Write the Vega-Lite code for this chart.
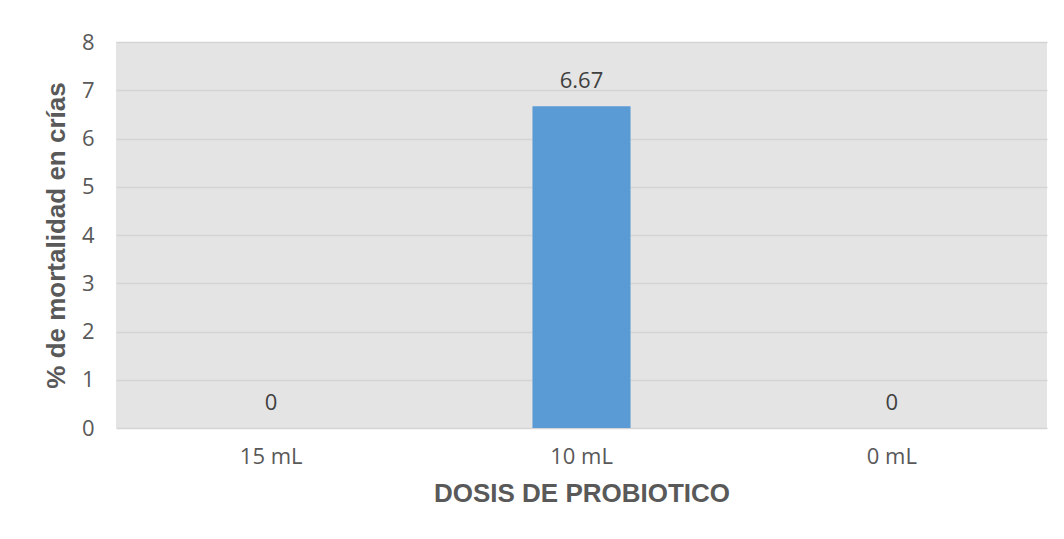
{
  "$schema": "https://vega.github.io/schema/vega-lite/v6.json",
  "autosize": {"type": "none"},
  "width": 931,
  "height": 386,
  "padding": {"left": 116, "top": 42, "right": 17, "bottom": 111},
  "background": "white",
  "config": {
    "view": {"fill": "#e4e4e4", "stroke": null},
    "font": "Open Sans"
  },
  "data": {
    "values": [
      {"dosis": "15 mL", "mortalidad": 0, "label": "0"},
      {"dosis": "10 mL", "mortalidad": 6.67, "label": "6.67"},
      {"dosis": "0 mL", "mortalidad": 0, "label": "0"}
    ]
  },
  "encoding": {
    "x": {
      "field": "dosis",
      "type": "nominal",
      "sort": ["15 mL", "10 mL", "0 mL"],
      "scale": {"paddingInner": 0, "paddingOuter": 0},
      "axis": {
        "title": "DOSIS DE PROBIOTICO",
        "titleFont": "Liberation Sans",
        "titleFontWeight": "bold",
        "titleFontSize": 26,
        "titleColor": "#595959",
        "titlePadding": 13,
        "labelFont": "Open Sans",
        "labelFontSize": 22,
        "labelColor": "#595959",
        "labelAngle": 0,
        "labelPadding": 18,
        "ticks": false,
        "domain": false
      }
    },
    "y": {
      "field": "mortalidad",
      "type": "quantitative",
      "scale": {"domain": [0, 8], "nice": false},
      "axis": {
        "title": "% de mortalidad en crías",
        "titleFont": "Liberation Sans",
        "titleFontWeight": "bold",
        "titleFontSize": 26,
        "titleColor": "#595959",
        "titlePadding": 12,
        "labelFont": "Open Sans",
        "labelFontSize": 22,
        "labelColor": "#595959",
        "labelPadding": 22,
        "values": [0, 1, 2, 3, 4, 5, 6, 7, 8],
        "ticks": false,
        "domain": false,
        "grid": true,
        "gridColor": "#d4d4d4",
        "gridWidth": 1.5
      }
    }
  },
  "layer": [
    {
      "mark": {"type": "bar", "color": "#5b9bd5", "width": {"band": 0.316}}
    },
    {
      "mark": {
        "type": "text",
        "font": "Open Sans",
        "fontSize": 22,
        "color": "#404040",
        "baseline": "alphabetic",
        "dy": -18
      },
      "encoding": {"text": {"field": "label"}}
    }
  ]
}
